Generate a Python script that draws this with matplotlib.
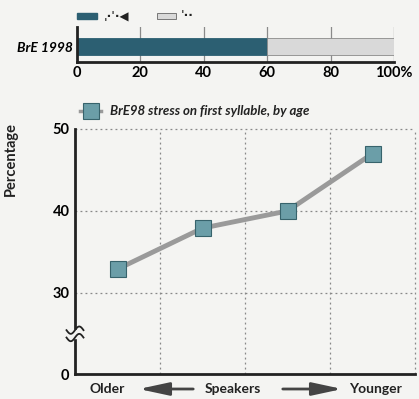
import matplotlib
matplotlib.use("Agg")
import matplotlib.pyplot as plt
import numpy as np

# ---- data ----
bar_label = "BrE 1998"
bar_parts = [60, 40]
bar_legend = ["ˌ·ˈ·◀", "ˈ··"]
bar_ticks = [0, 20, 40, 60, 80, 100]
bar_tick_labels = ["0", "20", "40", "60", "80", "100%"]

age_groups = ["1", "2", "3", "4"]
stress_pct = [32.9, 37.9, 40.0, 47.0]
line_legend = "BrE98 stress on first syllable, by age"
y_ticks = [30, 40, 50]
y_tick_labels = ["30", "40", "50"]
y_zero_pos = 20.1  # position on the broken axis where 0 sits

BG = "#f4f4f2"
DARK = "#2c5f72"
LIGHT = "#d9d9d9"
MFILL = "#6b9ea8"
MEDGE = "#37636c"
LINEC = "#9a9a9a"
FONT = ["Lato", "DejaVu Sans"]

plt.rcParams["font.family"] = FONT
fig = plt.figure(figsize=(4.19, 3.99), dpi=100, facecolor=BG)

W, H = 419, 399
def ax_rect(x0, y0, x1, y1):
    return [x0 / W, 1 - y1 / H, (x1 - x0) / W, (y1 - y0) / H]

# ---- top stacked bar ----
axt = fig.add_axes(ax_rect(77, 27, 394, 62))
axt.set_facecolor(BG)
axt.set_xlim(0, 100)
axt.set_ylim(0, 35)
for t in bar_ticks[1:]:
    axt.axvline(t, color="#8a8a8a", lw=0.9, zorder=0)
left = 0
cols = [DARK, LIGHT]
for v, c in zip(bar_parts, cols):
    axt.barh(15.5, v, left=left, height=17, color=c,
             edgecolor="#8a8a8a" if c == LIGHT else c, lw=0.6, zorder=2)
    left += v
for s in ["top", "right"]:
    axt.spines[s].set_visible(False)
axt.spines["left"].set_linewidth(2)
axt.spines["bottom"].set_linewidth(2)
axt.spines["left"].set_color("#222222")
axt.spines["bottom"].set_color("#222222")
axt.set_yticks([15.5])
axt.set_yticklabels([bar_label], fontsize=10, fontweight="bold", style="italic")
axt.set_xticks(bar_ticks)
axt.set_xticklabels(bar_tick_labels, fontsize=10.5, fontweight="bold")
axt.tick_params(length=0, pad=3)

# top legend
fig.patches.append(plt.Rectangle((77 / W, 1 - 19 / H), 20 / W, 6 / H,
                                 transform=fig.transFigure, color=DARK))
fig.text(104 / W, 1 - 16 / H, bar_legend[0], fontsize=8.5, va="center",
         family=["DejaVu Sans"], fontweight="bold", color="#222")
fig.patches.append(plt.Rectangle((157 / W, 1 - 19 / H), 19 / W, 6 / H,
                                 transform=fig.transFigure, facecolor=LIGHT,
                                 edgecolor="#666", lw=0.6))
fig.text(181 / W, 1 - 16 / H, bar_legend[1], fontsize=8.5, va="center",
         family=["DejaVu Sans"], fontweight="bold", color="#222")

# ---- bottom line chart ----
ax = fig.add_axes(ax_rect(75, 129, 415, 374))
ax.set_facecolor(BG)
x = np.arange(len(age_groups))
ax.set_xlim(-0.5, len(age_groups) - 0.5)
ax.set_ylim(y_zero_pos, 50)
for gx in [0.5, 1.5, 2.5, 3.5]:
    ax.axvline(gx, color="#888888", lw=0.9, ls=(0, (1.5, 2.5)), zorder=0, clip_on=False)
for gy in y_ticks:
    ax.axhline(gy, color="#888888", lw=0.9, ls=(0, (1.5, 2.5)), zorder=0, clip_on=False)
ln, = ax.plot(x, stress_pct, color=LINEC, lw=3.5, marker="s", markersize=12,
              markerfacecolor=MFILL, markeredgecolor=MEDGE, markeredgewidth=0.8,
              zorder=3, clip_on=False)
for s in ["top", "right"]:
    ax.spines[s].set_visible(False)
for s in ["left", "bottom"]:
    ax.spines[s].set_linewidth(2)
    ax.spines[s].set_color("#222222")
ax.set_yticks([y_zero_pos] + y_ticks)
ax.set_yticklabels(["0"] + y_tick_labels, fontsize=10.5, fontweight="bold")
ax.set_xticks([])
ax.tick_params(axis="y", length=0, pad=4)
fig.text(11 / W, 1 - 159 / H, "Percentage", fontsize=10.5, fontweight="bold",
         rotation=90, ha="center", va="center", color="#222")

# axis break marks
by = 25.0
ax.fill_between(np.linspace(-0.5 - 0.03, -0.5 + 0.03, 5), by - 0.5, by + 0.5,
                color=BG, zorder=4, clip_on=False)
for dy in (-0.45, 0.45):
    xs = np.linspace(-0.1, 0.1, 30)
    ys = by + dy + 0.45 * np.sin(xs / 0.1 * np.pi)
    ax.plot(xs - 0.5, ys, color="#222", lw=1.3, clip_on=False, zorder=5)

# line legend
fig.lines.append(plt.Line2D([80 / W, 101 / W], [1 - 111 / H, 1 - 111 / H],
                            transform=fig.transFigure, color=LINEC, lw=2.5))
fig.lines.append(plt.Line2D([90.5 / W], [1 - 111 / H], transform=fig.transFigure,
                            marker="s", markersize=11, markerfacecolor=MFILL,
                            markeredgecolor=MEDGE, markeredgewidth=0.8))
fig.text(110 / W, 1 - 111 / H, line_legend, fontsize=9.5, fontweight="bold",
         style="italic", va="center", color="#222")

# x-axis caption with arrows
yy = 1 - 389 / H
fig.text(89 / W, yy, "Older", fontsize=10, fontweight="bold", va="center", color="#222")
fig.text(205 / W, yy, "Speakers", fontsize=10, fontweight="bold", va="center", color="#222")
fig.text(349 / W, yy, "Younger", fontsize=10, fontweight="bold", va="center", color="#222")
arrowprops = dict(arrowstyle="-|>,head_length=1.3,head_width=0.28", color="#444",
                  lw=2.0, mutation_scale=14)
fig.add_artist(matplotlib.patches.FancyArrowPatch((196 / W, yy), (136 / W, yy),
               transform=fig.transFigure, **arrowprops))
fig.add_artist(matplotlib.patches.FancyArrowPatch((280 / W, yy), (345 / W, yy),
               transform=fig.transFigure, **arrowprops))

fig.savefig("out.png", dpi=100, facecolor=BG)
